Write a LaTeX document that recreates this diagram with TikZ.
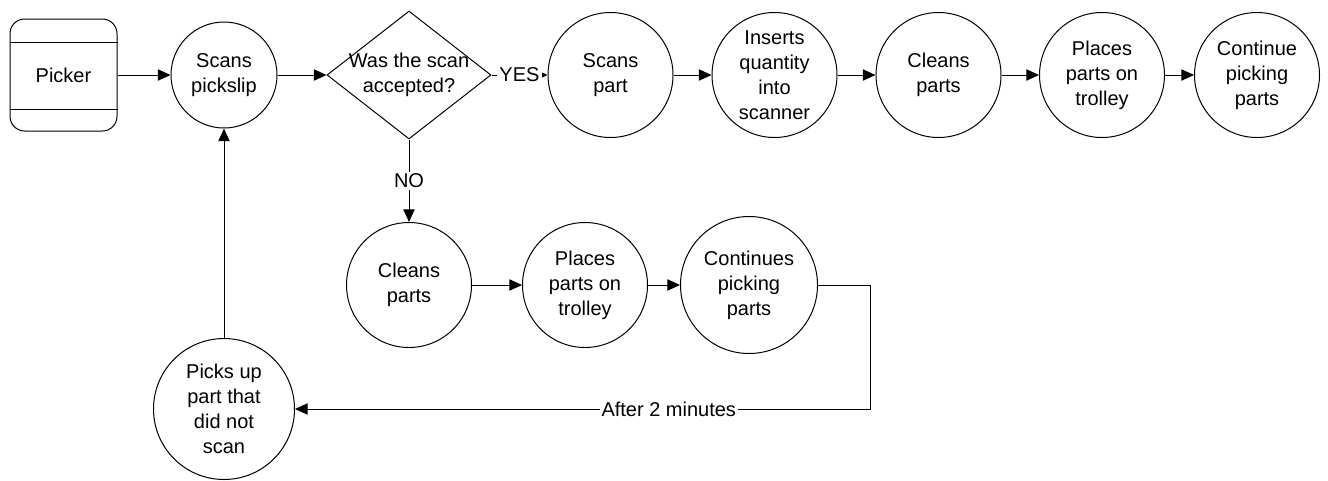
\documentclass[tikz,border=0pt]{standalone}
\usepackage{fontspec}
\setmainfont{Liberation Sans}
\usetikzlibrary{arrows.meta,shapes.geometric,calc}

\begin{document}
\begin{tikzpicture}[x=0.75pt,y=-0.75pt,
  every node/.style={font=\fontsize{15pt}{18.75pt}\selectfont, inner sep=0pt, align=center},
  proc/.style={circle, draw, line width=0.75pt, minimum size=#1},
  flow/.style={draw, line width=0.75pt, -{Triangle[length=9.5pt,width=8.5pt]}},
  shortflow/.style={draw, line width=0.75pt, -{Triangle[length=5.5pt,width=5pt]}},
  lbl/.style={fill=white, inner sep=1.5pt}
]
\useasboundingbox (0,0) rectangle (1328,480);

% actor box with header and footer bands
\node[draw, line width=0.75pt, rounded corners=11pt, minimum width=80.25pt, minimum height=84pt] (picker) at (63.5,75) {Picker};
\draw[line width=0.75pt] ($(picker.north west)+(0,24)$) -- ($(picker.north east)+(0,24)$);
\draw[line width=0.75pt] ($(picker.south west)+(0,-22)$) -- ($(picker.south east)+(0,-22)$);

% main row
\node[proc=79.5pt] (scan) at (224,75) {Scans\\pickslip};
\node[diamond, draw, line width=0.75pt, minimum width=123pt, minimum height=96pt] (dec) at (409,75) {};
\node (dectext) at (409,75) {Was the scan\\accepted?};
\node[proc=93.75pt] (part) at (610.5,75) {Scans\\part};
\node[proc=93.75pt] (insert) at (774.5,75) {Inserts\\quantity\\into\\scanner};
\node[proc=93.75pt] (clean1) at (938.5,75) {Cleans\\parts};
\node[proc=93.75pt] (place1) at (1102,75) {Places\\parts on\\trolley};
\node[proc=93.75pt] (cont1) at (1257,75) {Continue\\picking\\parts};

% rejected-scan row
\node[proc=93.75pt] (clean2) at (409,285) {Cleans\\parts};
\node[proc=93.75pt] (place2) at (585,285) {Places\\parts on\\trolley};
\node[proc=102.75pt] (cont2) at (749,285) {Continues\\picking\\parts};
\node[proc=105.75pt] (pick) at (224,409) {Picks up\\part that\\did not\\scan};

\coordinate (c1) at (870,285);
\coordinate (c2) at (870,409);

% connectors
\draw[flow] (picker.east) -- (scan.west);
\draw[flow] (scan) -- (dec.west);
\draw[shortflow] (dec.east) -- node[lbl]{YES} (part.west);
\draw[flow] (part) -- (insert);
\draw[flow] (insert) -- (clean1);
\draw[flow] (clean1) -- (place1);
\draw[flow] (place1) -- (cont1);
\draw[flow] (dec.south) -- node[lbl]{NO} (clean2.north);
\draw[flow] (clean2) -- (place2);
\draw[flow] (place2) -- (cont2);
\draw[flow] (cont2.east) -- (c1) -- (c2) -- node[lbl,pos=0.35]{After 2 minutes} (pick.east);
\draw[flow] (pick.north) -- (scan.south);
\end{tikzpicture}
\end{document}
